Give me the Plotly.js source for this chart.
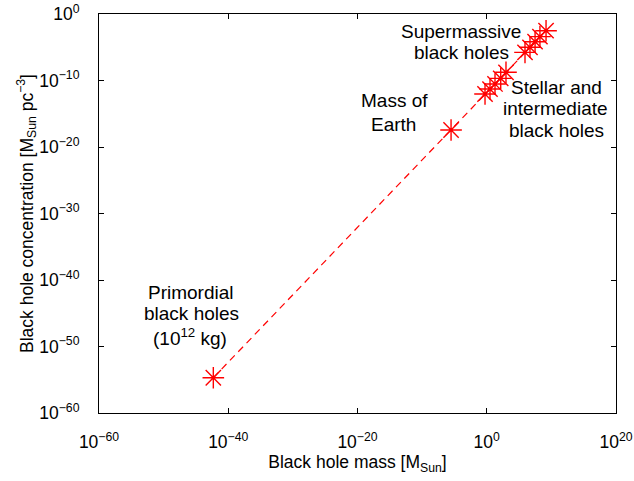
<!DOCTYPE html>
<html>
<head>
<meta charset="utf-8">
<script src="https://cdn.plot.ly/plotly-3.0.1.min.js"></script>
<style>html,body{margin:0;padding:0;background:#fff;}#chart{width:634px;height:481px;}</style>
</head>
<body>
<div id="chart"></div>
<script>
// Black hole mass [M_Sun]
var massSun = [4.9e-43, 3.0e-6, 0.54, 3.2, 19, 145, 950, 8.3e5, 4.9e6, 3.0e7, 1.7e8, 1.5e9];
// Black hole concentration [M_Sun pc^-3]
var concentration = [2.0e-55, 3.6e-18, 9.3e-13, 5.2e-12, 3.0e-11, 2.1e-10, 1.7e-9, 1.7e-6, 9.8e-6, 6.8e-5, 3.9e-4, 3.1e-3];
// tick exponents
var xTickExps = [-60, -40, -20, 0, 20];
var yTickExps = [-60, -50, -40, -30, -20, -10, 0];
// annotation labels (one entry per text line)
var labelLines = ["Supermassive", "black holes", "Mass of", "Earth", "Stellar and", "intermediate", "black holes", "Primordial", "black holes", "(10<sup>12</sup> kg)"];

function powLabel(e) { return "10<sup>" + String(e).replace("-", "\u2212") + "</sup>"; }

var L = 99, R = 616, T = 14, B = 413, W = 634, H = 481;
function px(x) { return (x - L) / (R - L); }
function py(y) { return (B - y) / (B - T); }
var labelPos = [[461, 31], [461, 52], [394, 100], [393, 124], [556, 87], [555.5, 108], [556, 130], [190.7, 292], [191, 313], [190, 337]];

var font = "Liberation Sans, Arial, sans-serif";
var annotations = labelLines.map(function (t, i) {
  return {
    text: t, xref: "paper", yref: "paper",
    x: px(labelPos[i][0]), y: py(labelPos[i][1]),
    xanchor: "center", yanchor: "middle", showarrow: false,
    font: {family: font, size: 19, color: "#000"}
  };
});

var trace = {
  x: massSun, y: concentration, type: "scatter", mode: "lines+markers",
  line: {color: "#ff0000", width: 1.2, dash: "7px,5px"},
  marker: {symbol: "asterisk-open", size: 18, color: "#ff0000", line: {color: "#ff0000", width: 1.4}},
  showlegend: false, hoverinfo: "skip"
};

var axisCommon = {
  type: "log", showgrid: false, zeroline: false, showline: true, linecolor: "#000", linewidth: 1,
  mirror: "ticks", ticks: "inside", ticklen: 5, tickcolor: "#000", tickwidth: 1,
  tickfont: {family: font, size: 17.5, color: "#000"}
};

var layout = {
  width: W, height: H,
  margin: {l: L, r: W - R, t: T, b: H - B, pad: 0},
  paper_bgcolor: "#fff", plot_bgcolor: "#fff",
  xaxis: Object.assign({}, axisCommon, {
    range: [-60, 20], tickmode: "array",
    tickvals: xTickExps.map(function (e) { return Math.pow(10, e); }),
    ticktext: xTickExps.map(powLabel),
    ticklabelstandoff: 13,
    title: {text: "Black hole mass [M<sub>Sun</sub>]", font: {family: font, size: 17.5, color: "#000"}, standoff: 4}
  }),
  yaxis: Object.assign({}, axisCommon, {
    range: [-60, 0], tickmode: "array",
    tickvals: yTickExps.map(function (e) { return Math.pow(10, e); }),
    ticktext: yTickExps.map(powLabel),
    ticklabelstandoff: 15,
    title: {text: "Black hole concentration [M<sub>Sun</sub> pc<sup>\u22123</sup>]", font: {family: font, size: 17.5, color: "#000"}, standoff: 1}
  }),
  annotations: annotations
};

Plotly.newPlot("chart", [trace], layout, {staticPlot: true, displayModeBar: false});
</script>
</body>
</html>
